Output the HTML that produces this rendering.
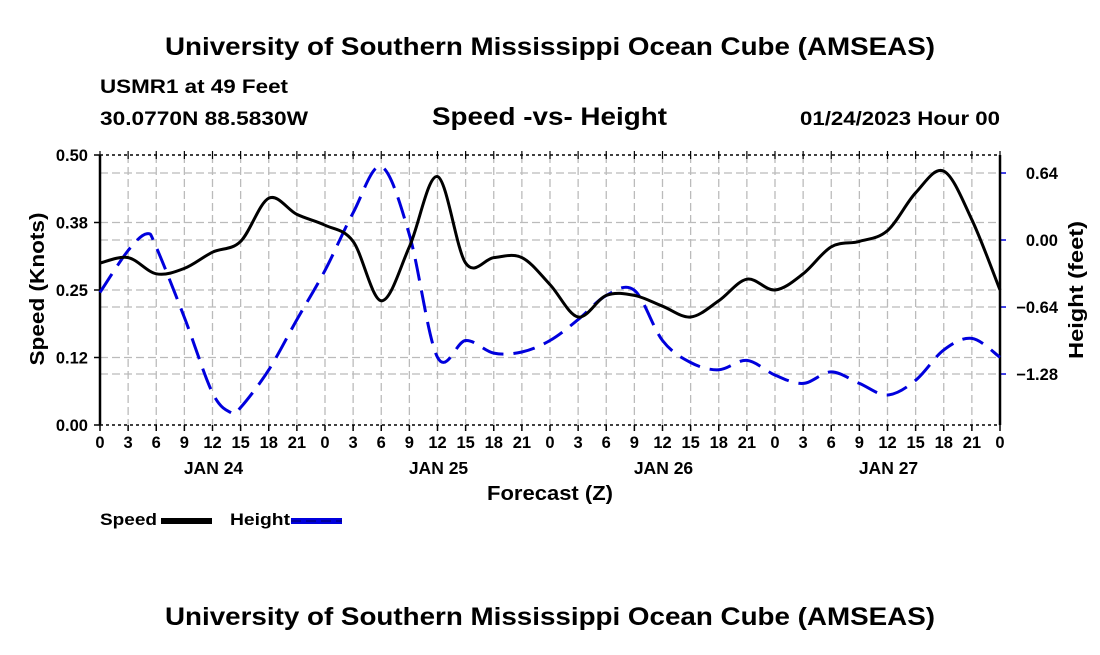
<!DOCTYPE html>
<html><head><meta charset="utf-8"><style>
body{margin:0;background:#fff;width:1100px;height:650px;overflow:hidden}
svg text{font-family:"Liberation Sans",Arial,sans-serif;font-weight:bold;fill:#000}
</style></head><body>
<svg id="chart" width="1100" height="650" viewBox="0 0 1100 650" xmlns="http://www.w3.org/2000/svg">
<rect width="1100" height="650" fill="#fff"/>
<text x="165" y="55" font-size="25" textLength="770" lengthAdjust="spacingAndGlyphs">University of Southern Mississippi Ocean Cube (AMSEAS)</text>
<text x="100" y="93" font-size="19" textLength="188" lengthAdjust="spacingAndGlyphs">USMR1 at 49 Feet</text>
<text x="100" y="125" font-size="19" textLength="208" lengthAdjust="spacingAndGlyphs">30.0770N  88.5830W</text>
<text x="432" y="125" font-size="25" textLength="235" lengthAdjust="spacingAndGlyphs">Speed -vs- Height</text>
<text x="800" y="125" font-size="19" textLength="200" lengthAdjust="spacingAndGlyphs">01/24/2023 Hour 00</text>
<g id="grid"></g>
<g id="axes"></g>
<g id="series"></g>
<text transform="translate(44,289) rotate(-90)" font-size="20" text-anchor="middle" textLength="153" lengthAdjust="spacingAndGlyphs">Speed (Knots)</text>
<text transform="translate(1083,290) rotate(-90)" font-size="20" text-anchor="middle" textLength="138" lengthAdjust="spacingAndGlyphs">Height (feet)</text>
<text x="487" y="500" font-size="20" textLength="126" lengthAdjust="spacingAndGlyphs">Forecast (Z)</text>
<g>
<text x="100" y="525" font-size="17" textLength="57" lengthAdjust="spacingAndGlyphs">Speed</text>
<rect x="161" y="518" width="51" height="6" fill="#000"/>
</g>
<g>
<text x="230" y="525" font-size="17" textLength="60" lengthAdjust="spacingAndGlyphs">Height</text>
<rect x="291" y="518" width="51" height="6" fill="#0000dd"/>
<line x1="291" y1="521" x2="342" y2="521" stroke="#000" stroke-width="1" stroke-dasharray="10,5" opacity="0.6"/>
</g>
<text x="165" y="625" font-size="25" textLength="770" lengthAdjust="spacingAndGlyphs">University of Southern Mississippi Ocean Cube (AMSEAS)</text>
</svg>
<script>
const speedHours=[0,3,6,9,12,15,18,21,24,27,30,33,36,39,42,45,48,51,54,57,60,63,66,69,72,75,78,81,84,87,90,93,96];
const speedValues=[0.30,0.31,0.28,0.29,0.32,0.34,0.42,0.39,0.37,0.34,0.23,0.33,0.46,0.30,0.31,0.31,0.26,0.20,0.24,0.24,0.22,0.20,0.23,0.27,0.25,0.28,0.33,0.34,0.36,0.43,0.47,0.38,0.25];
const heightHours=[0,3,5,6,9,12,14,15,18,21,24,27,30,33,36,39,42,45,48,51,54,57,60,63,66,69,72,75,78,81,84,87,90,93,96];
const heightValues=[-0.50,-0.10,0.06,-0.07,-0.74,-1.46,-1.65,-1.60,-1.24,-0.76,-0.29,0.26,0.70,0.05,-1.12,-0.96,-1.08,-1.07,-0.96,-0.76,-0.53,-0.48,-0.96,-1.17,-1.24,-1.15,-1.29,-1.37,-1.26,-1.37,-1.48,-1.34,-1.05,-0.94,-1.12];
const speedTicks=[0,0.125,0.25,0.375,0.5];
const speedTickLabels=["0.00","0.12","0.25","0.38","0.50"];
const heightTicks=[0.64,0,-0.64,-1.28];
const heightTickLabels=["0.64","0.00","\u22120.64","\u22121.28"];
const dayLabels=["JAN 24","JAN 25","JAN 26","JAN 27"];

const X0=100,X1=1000,Y0=425,Y1=155,HMAX=96;
const SMIN=0,SMAX=0.5,HTOP=0.812,HBOT=-1.767;
const xs=h=>X0+(h/HMAX)*(X1-X0);
const ys=v=>Y0-(v-SMIN)/(SMAX-SMIN)*(Y0-Y1);
const yh=v=>Y1+(HTOP-v)/(HTOP-HBOT)*(Y0-Y1);
const NS="http://www.w3.org/2000/svg";
function mk(tag,attrs,parent){const e=document.createElementNS(NS,tag);for(const k in attrs)e.setAttribute(k,attrs[k]);parent.appendChild(e);return e;}
const grid=document.getElementById('grid'),axes=document.getElementById('axes'),series=document.getElementById('series');

for(let h=3;h<HMAX;h+=3){
 const l=mk('line',{x1:xs(h),x2:xs(h),y1:Y1,y2:Y0,stroke:'#bbb','stroke-width':1.3,'stroke-dasharray':'8,4'},grid);
 
 
}
speedTicks.forEach((v,i)=>{
 if(i>0&&i<speedTicks.length-1){const l=mk('line',{x1:X0,x2:X1,y1:ys(v),y2:ys(v),stroke:'#bbb','stroke-width':1.3,'stroke-dasharray':'8,4'},grid);
 
 }
 const t=mk('line',{x1:X0-6,x2:X0,y1:ys(v),y2:ys(v),stroke:'#000','stroke-width':1.5},axes);
 
 
 const tx=mk('text',{x:X0-12,y:ys(v)+6,'font-size':16.5,'text-anchor':'end'},axes);tx.textContent=speedTickLabels[i];
 
 
});
heightTicks.forEach((v,i)=>{
 const l=mk('line',{x1:X0,x2:X1,y1:yh(v),y2:yh(v),stroke:'#bbb','stroke-width':1.3,'stroke-dasharray':'8,4'},grid);
 
 
 const t=mk('line',{x1:X1,x2:X1+6,y1:yh(v),y2:yh(v),stroke:'#0000dd','stroke-width':1.5},axes);
 
 
 const tx=mk('text',{x:1058,y:yh(v)+6,'font-size':16.5,'text-anchor':'end'},axes);tx.textContent=heightTickLabels[i];
 
 
});
mk('line',{x1:X0,x2:X0,y1:Y1,y2:Y0,stroke:'#000','stroke-width':2.5},axes);
mk('line',{x1:X1,x2:X1,y1:Y1,y2:Y0,stroke:'#000','stroke-width':2.5},axes);
mk('line',{x1:X0,x2:X1,y1:Y1,y2:Y1,stroke:'#000','stroke-width':1.5,'stroke-dasharray':'3,3'},axes);
mk('line',{x1:X0,x2:X1,y1:Y0,y2:Y0,stroke:'#000','stroke-width':1.5,'stroke-dasharray':'3,3'},axes);
for(let h=0;h<=HMAX;h+=3){
 mk('line',{x1:xs(h),x2:xs(h),y1:Y0,y2:Y0+6,stroke:'#000','stroke-width':1.5},axes);
 mk('line',{x1:xs(h),x2:xs(h),y1:Y1-4,y2:Y1+4,stroke:'#000','stroke-width':1.2},axes);
 const tx=mk('text',{x:xs(h),y:448,'font-size':16.5,'text-anchor':'middle'},axes);tx.textContent=String(h%24);
 
 
}
dayLabels.forEach((d,i)=>{
 const tx=mk('text',{x:xs(12+24*i)+1,y:474,'font-size':17.5,'text-anchor':'middle'},axes);tx.textContent=d;
 
 
});
function smooth(pts){
 let d='M'+pts[0][0].toFixed(1)+','+pts[0][1].toFixed(1);
 for(let i=0;i<pts.length-1;i++){
  const p0=pts[Math.max(0,i-1)],p1=pts[i],p2=pts[i+1],p3=pts[Math.min(pts.length-1,i+2)];
  const c1=[p1[0]+(p2[0]-p0[0])/6,p1[1]+(p2[1]-p0[1])/6],c2=[p2[0]-(p3[0]-p1[0])/6,p2[1]-(p3[1]-p1[1])/6];
  d+=' C'+c1.map(n=>n.toFixed(1))+' '+c2.map(n=>n.toFixed(1))+' '+p2.map(n=>n.toFixed(1));
 }
 return d;
}
const hp=mk('path',{d:smooth(heightHours.map((h,i)=>[xs(h),yh(heightValues[i])])),fill:'none',stroke:'#0000dd','stroke-width':3,'stroke-dasharray':'22,10'},series);


const sp=mk('path',{d:smooth(speedHours.map((h,i)=>[xs(h),ys(speedValues[i])])),fill:'none',stroke:'#000','stroke-width':3},series);


</script>
</body></html>
